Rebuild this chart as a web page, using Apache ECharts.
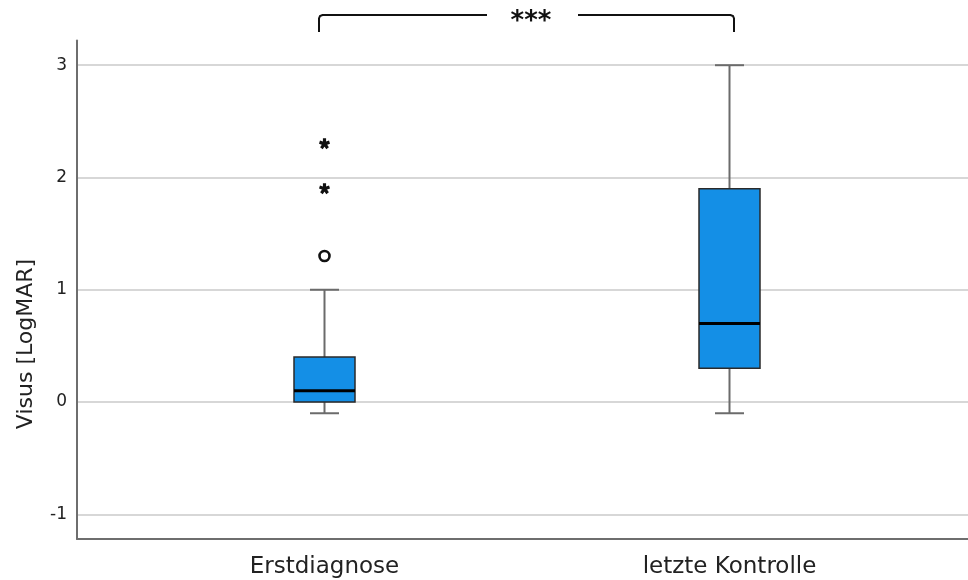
<!DOCTYPE html>
<html>
<head>
<meta charset="utf-8">
<script src="https://cdn.jsdelivr.net/npm/echarts@6/dist/echarts.min.js"></script>
<style>
  html, body { margin: 0; padding: 0; background: #fff; }
  #chart { width: 968px; height: 580px; }
</style>
</head>
<body>
<div id="chart"></div>
<script>
// Visual acuity (LogMAR) at first diagnosis vs. last follow-up
const categories = ['Erstdiagnose', 'letzte Kontrolle'];
const whiskerLow  = [-0.1, -0.1];
const quartile1   = [0.0, 0.3];
const medians     = [0.1, 0.7];
const quartile3   = [0.4, 1.9];
const whiskerHigh = [1.0, 3.0];
// outliers (circle) and extreme values (star), as [categoryIndex, value]
const outliers = [[0, 1.3]];
const extremes = [[0, 1.9], [0, 2.3]];
const yTicks = [-1, 0, 1, 2, 3];

const FONT = 'DejaVu Sans';
const Y_MIN = -1.22, Y_MAX = 3.22;

// five-armed asterisk used for extreme values
function asteriskPath(arms, hw) {
  let d = '';
  for (let i = 0; i < arms; i++) {
    const a = -Math.PI / 2 + i * 2 * Math.PI / arms;
    const dx = Math.cos(a), dy = Math.sin(a);
    const px = -dy * hw, py = dx * hw;
    const pts = [[px, py], [dx + px, dy + py], [dx - px, dy - py], [-px, -py]]
      .map(p => [(p[0] + 1) * 10, (p[1] + 1) * 10]);
    d += 'M' + pts.map(p => p[0].toFixed(2) + ' ' + p[1].toFixed(2)).join(' L') + ' Z ';
  }
  return 'path://' + d;
}

const boxData = categories.map((c, i) =>
  [i, whiskerLow[i], quartile1[i], medians[i], quartile3[i], whiskerHigh[i]]);

function renderBox(params, api) {
  const i = api.value(0);
  const pLow = api.coord([i, api.value(1)]);
  const pQ1 = api.coord([i, api.value(2)]);
  const pMed = api.coord([i, api.value(3)]);
  const pQ3 = api.coord([i, api.value(4)]);
  const pHigh = api.coord([i, api.value(5)]);
  const cx = pMed[0];
  const boxW = 61, capW = 29;
  const whisk = { stroke: '#6b6b6b', lineWidth: 2 };
  return {
    type: 'group',
    children: [
      { type: 'line', shape: { x1: cx, y1: pQ3[1], x2: cx, y2: pHigh[1] }, style: whisk },
      { type: 'line', shape: { x1: cx, y1: pQ1[1], x2: cx, y2: pLow[1] }, style: whisk },
      { type: 'line', shape: { x1: cx - capW / 2, y1: pHigh[1], x2: cx + capW / 2, y2: pHigh[1] }, style: whisk },
      { type: 'line', shape: { x1: cx - capW / 2, y1: pLow[1], x2: cx + capW / 2, y2: pLow[1] }, style: whisk },
      { type: 'rect', shape: { x: cx - boxW / 2, y: pQ3[1], width: boxW, height: pQ1[1] - pQ3[1] },
        style: { fill: '#148fe6', stroke: '#2a2a2a', lineWidth: 1.5 } },
      { type: 'line', shape: { x1: cx - boxW / 2, y1: pMed[1], x2: cx + boxW / 2, y2: pMed[1] },
        style: { stroke: '#000', lineWidth: 3 } }
    ]
  };
}

const chart = echarts.init(document.getElementById('chart'), null, { renderer: 'canvas' });
chart.setOption({
  animation: false,
  backgroundColor: '#fff',
  grid: [
    { left: 77, right: 0, top: 40.5, bottom: 41 },
    { left: 122, right: 36, top: 40.5, bottom: 41 }
  ],
  xAxis: [
    { gridIndex: 0, type: 'value', min: 0, max: 1,
      axisLine: { show: true, onZero: false, lineStyle: { color: '#6e6e6e', width: 2 } },
      axisTick: { show: false }, axisLabel: { show: false }, splitLine: { show: false } },
    { gridIndex: 1, type: 'category', data: categories,
      axisLine: { show: false }, axisTick: { show: false }, splitLine: { show: false },
      axisLabel: { fontFamily: FONT, fontSize: 23, color: '#222', margin: 17 } }
  ],
  yAxis: [
    { gridIndex: 0, type: 'value', min: Y_MIN, max: Y_MAX,
      axisLine: { show: true, lineStyle: { color: '#6e6e6e', width: 2 } },
      axisTick: { show: false },
      axisLabel: { fontFamily: FONT, fontSize: 17, color: '#222', margin: 10,
        showMinLabel: false, showMaxLabel: false,
        formatter: v => yTicks.indexOf(Math.round(v * 100) / 100) >= 0 ? String(Math.round(v)) : '' },
      splitLine: { show: true, showMinLine: false, showMaxLine: false,
        lineStyle: { color: '#cacaca', width: 1.5 } } },
    { gridIndex: 1, type: 'value', min: Y_MIN, max: Y_MAX, show: false }
  ],
  series: [
    { type: 'custom', xAxisIndex: 1, yAxisIndex: 1, renderItem: renderBox, data: boxData,
      encode: { x: 0, y: [1, 2, 3, 4, 5] }, z: 3 },
    { type: 'scatter', xAxisIndex: 1, yAxisIndex: 1, data: outliers, symbol: 'circle', symbolSize: 10,
      itemStyle: { color: '#fff', borderColor: '#111', borderWidth: 2.6, opacity: 1 }, z: 4 },
    { type: 'scatter', xAxisIndex: 1, yAxisIndex: 1, data: extremes,
      symbol: asteriskPath(5, 0.3), symbolSize: 11,
      itemStyle: { color: '#111', opacity: 1 }, z: 4 }
  ],
  graphic: [
    { type: 'text', x: 26, y: 344, rotation: Math.PI / 2,
      style: { text: 'Visus [LogMAR]', fontFamily: FONT, fontSize: 22, fill: '#222',
        align: 'center', verticalAlign: 'middle' } },
    { type: 'polyline', shape: { points: [[319, 32], [319, 18.5], [320, 16], [322.5, 15], [487, 15]] },
      style: { stroke: '#111', lineWidth: 2, fill: null } },
    { type: 'polyline', shape: { points: [[578, 15], [730.5, 15], [733, 16], [734, 18.5], [734, 32]] },
      style: { stroke: '#111', lineWidth: 2, fill: null } },
    { type: 'text', x: 531, y: 22,
      style: { text: '***', fontFamily: FONT, fontWeight: 'bold', fontSize: 26, fill: '#111',
        align: 'center', verticalAlign: 'middle' } }
  ]
});
</script>
</body>
</html>
